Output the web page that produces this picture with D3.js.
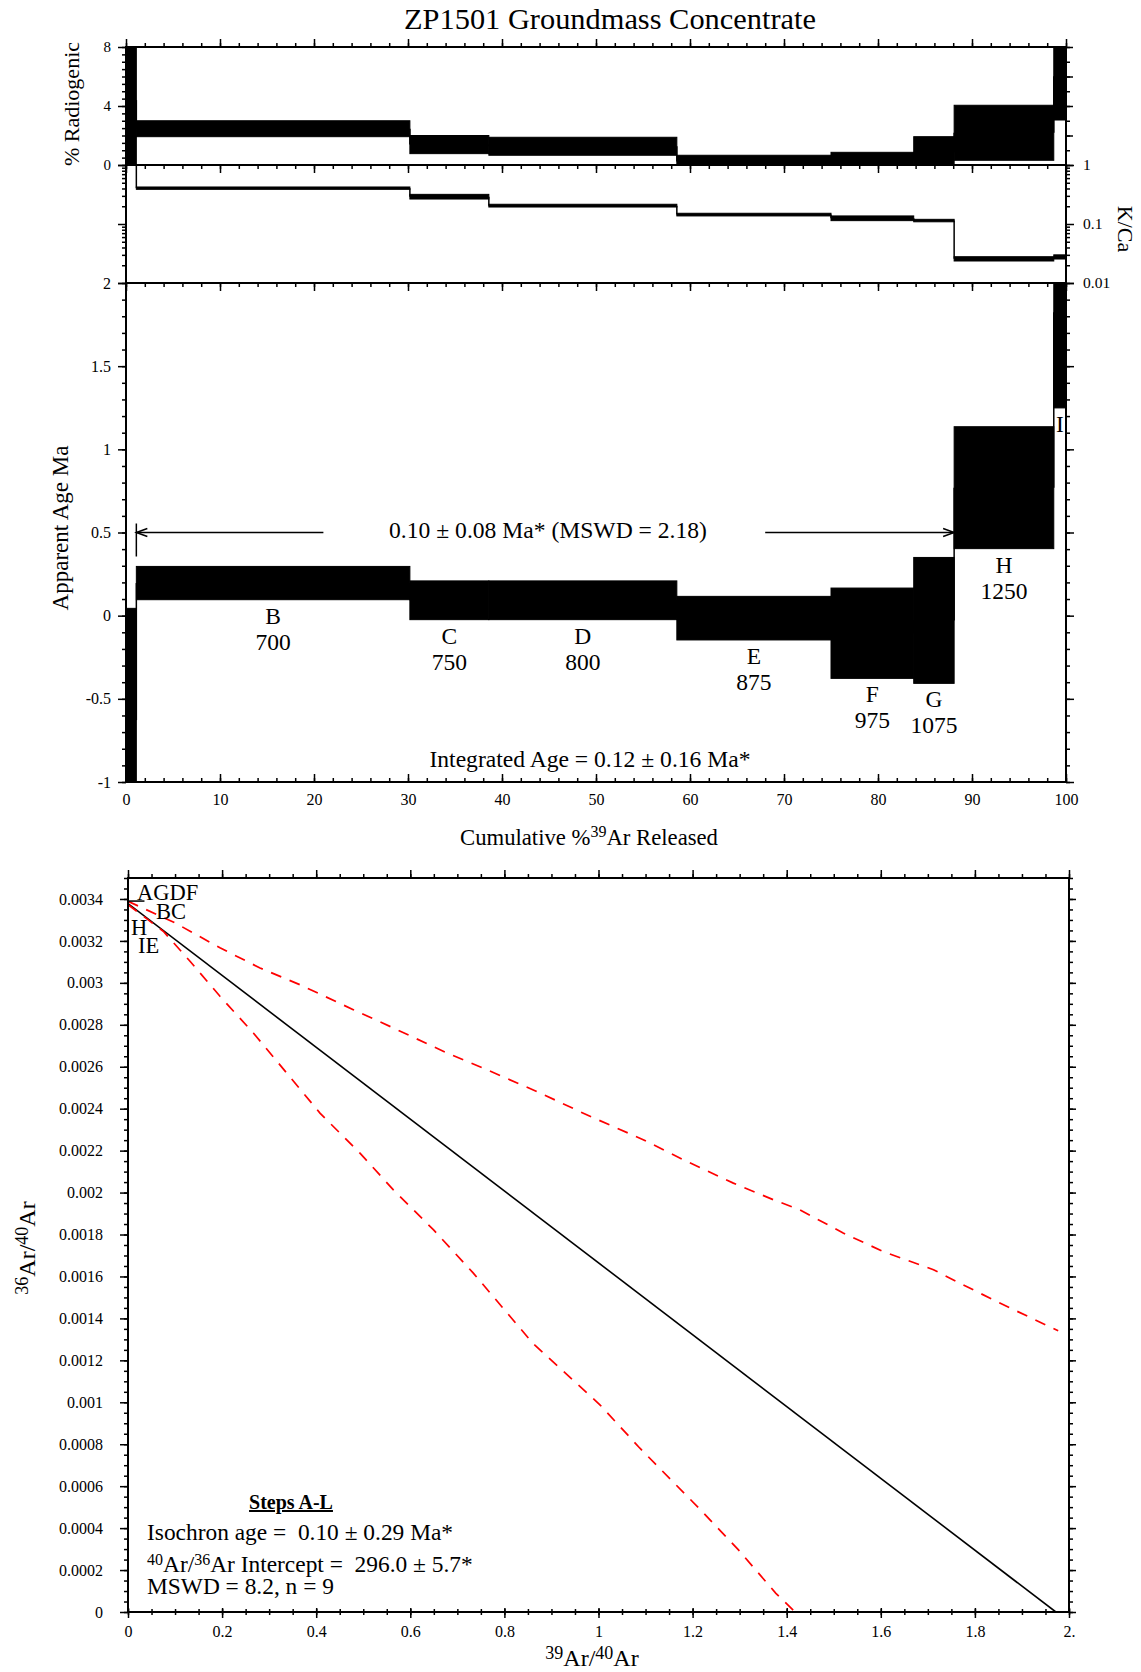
<!DOCTYPE html>
<html>
<head>
<meta charset="utf-8">
<script src="https://cdn.jsdelivr.net/npm/d3@7"></script>
<style>
  body { margin: 0; background: #fff; }
  text { font-family: "Liberation Serif", "Times New Roman", serif; fill: #000; }
  .pre { white-space: pre; }
</style>
</head>
<body>
<div id="chart"></div>
<script>
/* age spectrum + isochron for ZP1501 groundmass */

// heating steps
const steps = ['A', 'B', 'C', 'D', 'E', 'F', 'G', 'H', 'I'];
const temps = ['', '700', '750', '800', '875', '975', '1075', '1250', ''];
const cumBounds = [0, 1.1, 30.2, 38.6, 58.6, 75.0, 83.8, 88.1, 98.7, 100];

// apparent age (Ma), 2 sigma box limits
const ageLo = [-1.3, 0.096, -0.024, -0.024, -0.146, -0.377, -0.407, 0.403, 1.249];
const ageHi = [0.044, 0.296, 0.209, 0.209, 0.116, 0.166, 0.35, 1.136, 2.4];

// % radiogenic
const radLo = [-0.2, 1.92, 0.77, 0.66, -0.2, -0.2, -0.2, 0.32, 3.05];
const radHi = [9, 3.0, 2.0, 1.88, 0.66, 0.86, 1.92, 4.05, 9];

// K/Ca
const kcaLo = [1.5, 0.387, 0.265, 0.194, 0.137, 0.114, 0.109, 0.0236, 0.0255];
const kcaHi = [2.0, 0.424, 0.318, 0.216, 0.152, 0.137, 0.12, 0.0279, 0.030];

// axis ticks
const specXTicks = [0, 10, 20, 30, 40, 50, 60, 70, 80, 90, 100];
const radTicks = [0, 4, 8];
const kcaTicks = [0.01, 0.1, 1];
const kcaLabels = ['0.01', '0.1', '1'];
const ageTicks = [-1, -0.5, 0, 0.5, 1, 1.5, 2];
const ageLabels = ['-1', '-0.5', '0', '0.5', '1', '1.5', '2'];

// isochron
const isoXTicks = [0, 0.2, 0.4, 0.6, 0.8, 1, 1.2, 1.4, 1.6, 1.8, 2];
const isoXLabels = ['0', '0.2', '0.4', '0.6', '0.8', '1', '1.2', '1.4', '1.6', '1.8', '2.'];
const isoYTicks = [0, 0.0002, 0.0004, 0.0006, 0.0008, 0.001, 0.0012, 0.0014, 0.0016, 0.0018,
  0.002, 0.0022, 0.0024, 0.0026, 0.0028, 0.003, 0.0032, 0.0034];
const isoYLabels = ['0', '0.0002', '0.0004', '0.0006', '0.0008', '0.001', '0.0012', '0.0014', '0.0016', '0.0018',
  '0.002', '0.0022', '0.0024', '0.0026', '0.0028', '0.003', '0.0032', '0.0034'];

const fitX = [0, 1.972];
const fitY = [0.003378, 0];
const upperX = [0, 0.1, 0.1955, 0.2806, 0.3656, 0.4789, 0.5639, 0.6774, 0.7624, 0.8757, 0.9749,
  1.095, 1.18, 1.2866, 1.3715, 1.428, 1.52, 1.605, 1.712, 1.768, 1.853, 1.977];
const upperY = [0.003389, 0.003286, 0.003167, 0.003071, 0.002991, 0.002872, 0.002785, 0.002666, 0.002586, 0.002475, 0.002371,
  0.002252, 0.002157, 0.002045, 0.001966, 0.001918, 0.001807, 0.001719, 0.001632, 0.001568, 0.001473, 0.001341];
const lowerX = [0, 0.075, 0.1318, 0.1955, 0.2664, 0.3373, 0.408, 0.493, 0.564, 0.649, 0.734,
  0.861, 1.003, 1.088, 1.217, 1.2975, 1.377, 1.418];
const lowerY = [0.003373, 0.003246, 0.003103, 0.002936, 0.002761, 0.00257, 0.002379, 0.002188, 0.002013, 0.001823, 0.001616,
  0.00128, 0.000988, 0.000781, 0.000487, 0.000296, 0.0000892, 0];

const ptLabels = ['AGDF', 'BC', 'H', 'IE'];
const ptX = [0.019, 0.0595, 0.0064, 0.0213];
const ptY = [0.003397, 0.003306, 0.00323, 0.003144];

const spec = steps.map((s, i) => ({
  step: s, temp: temps[i], x0: cumBounds[i], x1: cumBounds[i + 1],
  ageLo: ageLo[i], ageHi: ageHi[i], radLo: radLo[i], radHi: radHi[i],
  kcaLo: kcaLo[i], kcaHi: kcaHi[i]
}));

const svg = d3.select('#chart').append('svg')
  .attr('width', 1141)
  .attr('height', 1672);

// scales
const x = d3.scaleLinear().domain([0, 100]).range([126, 1066]);
const yRad = d3.scaleLinear().domain([0, 8]).range([165, 47]);
const yKca = d3.scaleLog().domain([0.01, 1]).range([283, 165]);
const yAge = d3.scaleLinear().domain([-1, 2]).range([782, 283]);
const ix = d3.scaleLinear().domain([0, 2]).range([128, 1069]);
const iy = d3.scaleLinear().domain([0, 0.0035]).range([1612, 878]);

const defs = svg.append('defs');
function clip(id, x0, y0, x1, y1) {
  defs.append('clipPath').attr('id', id).append('rect')
    .attr('x', x0).attr('y', y0).attr('width', x1 - x0).attr('height', y1 - y0);
}
clip('cRad', 126, 47, 1066, 165);
clip('cKca', 126, 165, 1066, 283);
clip('cAge', 126, 283, 1066, 782);
clip('cIso', 128, 878, 1069, 1612);

function ticks(orient, scale, vals, size, pos, opts = {}) {
  const axis = d3[orient](scale).tickValues(vals).tickSizeInner(size).tickSizeOuter(0)
    .tickPadding(opts.pad || 3)
    .tickFormat(opts.labels ? (d, i) => opts.labels[i] : '');
  const horiz = orient === 'axisTop' || orient === 'axisBottom';
  const g = svg.append('g')
    .attr('transform', horiz ? `translate(0,${pos})` : `translate(${pos},0)`)
    .call(axis);
  g.select('.domain').remove();
  g.selectAll('line').attr('stroke', '#000').attr('stroke-width', 1.5);
  g.selectAll('text').style('font-size', (opts.fs || 16) + 'px');
  return g;
}

// step boxes with vertical connectors
function boxes(clipId, yScale, lo, hi, mid) {
  const g = svg.append('g').attr('clip-path', `url(#${clipId})`);
  g.selectAll('rect').data(spec).enter().append('rect')
    .attr('x', d => x(d.x0))
    .attr('width', d => x(d.x1) - x(d.x0))
    .attr('y', d => yScale(d[hi]))
    .attr('height', d => yScale(d[lo]) - yScale(d[hi]))
    .attr('fill', '#000')
    .attr('stroke', '#000')
    .attr('stroke-width', 1);
  g.selectAll('line').data(spec.slice(1)).enter().append('line')
    .attr('x1', d => x(d.x0)).attr('x2', d => x(d.x0))
    .attr('y1', (d, i) => yScale(mid(spec[i][lo], spec[i][hi])))
    .attr('y2', d => yScale(mid(d[lo], d[hi])))
    .attr('stroke', '#000')
    .attr('stroke-width', 1.5);
  return g;
}
const arith = (a, b) => (a + b) / 2;
const geom = (a, b) => Math.sqrt(a * b);

boxes('cRad', yRad, 'radLo', 'radHi', arith);
boxes('cKca', yKca, 'kcaLo', 'kcaHi', geom);
const gAge = boxes('cAge', yAge, 'ageLo', 'ageHi', arith);

// step letters and temperatures
gAge.selectAll('.stepLab').data(spec).enter().append('text')
  .attr('x', d => x((d.x0 + d.x1) / 2))
  .attr('y', d => yAge(d.ageLo) + 24)
  .attr('text-anchor', 'middle')
  .style('font-size', '23.5px')
  .text(d => d.step);
gAge.selectAll('.tempLab').data(spec.filter(d => d.temp)).enter().append('text')
  .attr('x', d => x((d.x0 + d.x1) / 2))
  .attr('y', d => yAge(d.ageLo) + 50)
  .attr('text-anchor', 'middle')
  .style('font-size', '23.5px')
  .text(d => d.temp);

// plateau arrows
const py = yAge(0.5);
const pL = x(cumBounds[1]), pR = x(cumBounds[7]);
const ann = svg.append('g').attr('stroke', '#000').attr('stroke-width', 1.5).attr('fill', 'none');
ann.append('line').attr('x1', pL).attr('x2', x(21)).attr('y1', py).attr('y2', py);
ann.append('line').attr('x1', x(68)).attr('x2', pR).attr('y1', py).attr('y2', py);
ann.append('line').attr('x1', pL).attr('x2', pL).attr('y1', py - 9).attr('y2', py + 24);
ann.append('path').attr('d', `M${pL + 11},${py - 4}L${pL},${py}L${pL + 11},${py + 4}`);
ann.append('path').attr('d', `M${pR - 11},${py - 4}L${pR},${py}L${pR - 11},${py + 4}`);

svg.append('text').attr('x', 548).attr('y', 538).attr('text-anchor', 'middle')
  .style('font-size', '23.6px').text('0.10 ± 0.08 Ma* (MSWD = 2.18)');
svg.append('text').attr('x', 590).attr('y', 767).attr('text-anchor', 'middle')
  .style('font-size', '23.6px').text('Integrated Age = 0.12 ± 0.16 Ma*');

// spectrum ticks
const xMinor = d3.range(0, 100.01, 2);
ticks('axisTop', x, xMinor, 4, 47);
ticks('axisTop', x, specXTicks, 8, 47);
ticks('axisBottom', x, xMinor, 4, 165);
ticks('axisBottom', x, specXTicks, 8, 165);
ticks('axisBottom', x, xMinor, 4, 283);
ticks('axisBottom', x, specXTicks, 8, 283);
ticks('axisBottom', x, xMinor, -4, 782);
ticks('axisBottom', x, specXTicks, -8, 782, { labels: specXTicks.map(String), pad: 12 });

ticks('axisLeft', yRad, d3.range(0, 8.01, 0.5), 4, 126);
ticks('axisLeft', yRad, radTicks, 8, 126, { labels: radTicks.map(String), pad: 7, fs: 15 });
ticks('axisRight', yRad, d3.range(0, 8.01, 1), 4, 1066);
ticks('axisRight', yRad, d3.range(0, 8.01, 2), 7, 1066);

const kcaMinor = [0.01, 0.1].flatMap(dec => d3.range(2, 10).map(k => k * dec));
ticks('axisLeft', yKca, kcaMinor, 4, 126);
ticks('axisLeft', yKca, kcaTicks, 8, 126);
ticks('axisRight', yKca, kcaMinor, 4, 1066);
ticks('axisRight', yKca, kcaTicks, 8, 1066, { labels: kcaLabels, pad: 9, fs: 15.5 });

const ageMinor = d3.range(-10, 21).map(k => k / 10);
ticks('axisLeft', yAge, ageMinor, 4, 126);
ticks('axisLeft', yAge, ageTicks, 8, 126, { labels: ageLabels, pad: 7 });
ticks('axisRight', yAge, ageMinor, 4, 1066);
ticks('axisRight', yAge, ageTicks, 8, 1066);

// panel frames
[[47, 165], [165, 283], [283, 782]].forEach(([t, b]) => {
  svg.append('rect').attr('x', 126).attr('y', t).attr('width', 940).attr('height', b - t)
    .attr('fill', 'none').attr('stroke', '#000').attr('stroke-width', 2);
});

// titles and axis labels
svg.append('text').attr('x', 610).attr('y', 29).attr('text-anchor', 'middle')
  .style('font-size', '30.4px').text('ZP1501 Groundmass Concentrate');
svg.append('text').attr('transform', 'translate(79,104) rotate(-90)').attr('text-anchor', 'middle')
  .style('font-size', '22px').text('% Radiogenic');
svg.append('text').attr('transform', 'translate(68,528) rotate(-90)').attr('text-anchor', 'middle')
  .style('font-size', '23px').text('Apparent Age Ma');
svg.append('text').attr('transform', 'translate(1118,229) rotate(90)').attr('text-anchor', 'middle')
  .style('font-size', '22px').text('K/Ca');
const cum = svg.append('text').attr('x', 589).attr('y', 845).attr('text-anchor', 'middle')
  .style('font-size', '22.7px');
cum.append('tspan').text('Cumulative %');
cum.append('tspan').attr('dy', -8).style('font-size', '16px').text('39');
cum.append('tspan').attr('dy', 8).text('Ar Released');

// ---- isochron ----
const gIso = svg.append('g').attr('clip-path', 'url(#cIso)');
const line = d3.line().x(d => ix(d[0])).y(d => iy(d[1]));
gIso.append('path').datum(fitX.map((v, i) => [v, fitY[i]]))
  .attr('d', line).attr('fill', 'none').attr('stroke', '#000').attr('stroke-width', 1.6);
[[upperX, upperY], [lowerX, lowerY]].forEach(([xs, ys]) => {
  gIso.append('path').datum(xs.map((v, i) => [v, ys[i]]))
    .attr('d', line).attr('fill', 'none').attr('stroke', '#ff0000')
    .attr('stroke-width', 1.7).attr('stroke-dasharray', '11,9');
});
gIso.append('line').attr('x1', ix(0)).attr('x2', ix(0.035)).attr('y1', iy(0.00339)).attr('y2', iy(0.00339))
  .attr('stroke', '#000').attr('stroke-width', 1.5);
gIso.selectAll('.pt').data(ptLabels).enter().append('text')
  .attr('x', (d, i) => ix(ptX[i]))
  .attr('y', (d, i) => iy(ptY[i]))
  .style('font-size', '22.5px')
  .text(d => d);

const isoXMinor = d3.range(0, 41).map(k => k * 0.05);
const isoYMinor = d3.range(0, 71).map(k => k * 0.00005);
ticks('axisTop', ix, isoXMinor, 4, 878);
ticks('axisTop', ix, isoXTicks, 8, 878);
ticks('axisBottom', ix, isoXMinor, 3, 1612);
ticks('axisTop', ix, isoXMinor, 3, 1612);
ticks('axisTop', ix, isoXTicks, 4, 1612);
ticks('axisBottom', ix, isoXTicks, 6, 1612, { labels: isoXLabels, pad: 8 });
ticks('axisLeft', iy, isoYMinor, 4, 128);
ticks('axisLeft', iy, isoYTicks, 8, 128, { labels: isoYLabels, pad: 17, fs: 16 });
ticks('axisRight', iy, isoYMinor, 4, 1069);
ticks('axisRight', iy, isoYTicks, 7, 1069);

svg.append('rect').attr('x', 128).attr('y', 878).attr('width', 941).attr('height', 734)
  .attr('fill', 'none').attr('stroke', '#000').attr('stroke-width', 2);

// isochron stats
svg.append('text').attr('x', 291).attr('y', 1509).attr('text-anchor', 'middle')
  .style('font-size', '20px').style('font-weight', 'bold').style('text-decoration', 'underline')
  .text('Steps A-L');
svg.append('text').attr('class', 'pre').attr('x', 147).attr('y', 1540)
  .style('font-size', '23.4px').text('Isochron age =  0.10 ± 0.29 Ma*');
const ic = svg.append('text').attr('class', 'pre').attr('x', 147).attr('y', 1572).style('font-size', '23.4px');
ic.append('tspan').attr('dy', -7).style('font-size', '16px').text('40');
ic.append('tspan').attr('dy', 7).text('Ar/');
ic.append('tspan').attr('dy', -7).style('font-size', '16px').text('36');
ic.append('tspan').attr('dy', 7).text('Ar Intercept =  296.0 ± 5.7*');
svg.append('text').attr('x', 147).attr('y', 1594)
  .style('font-size', '23.4px').text('MSWD = 8.2, n = 9');

// isochron axis labels
function ratioLabel(sel, a, b) {
  sel.append('tspan').attr('dy', -7).style('font-size', '18px').text(a);
  sel.append('tspan').attr('dy', 7).text('Ar/');
  sel.append('tspan').attr('dy', -7).style('font-size', '18px').text(b);
  sel.append('tspan').attr('dy', 7).text('Ar');
}
ratioLabel(svg.append('text').attr('x', 592).attr('y', 1666).attr('text-anchor', 'middle')
  .style('font-size', '24px'), '39', '40');
ratioLabel(svg.append('text').attr('transform', 'translate(35,1248) rotate(-90)').attr('text-anchor', 'middle')
  .style('font-size', '24px'), '36', '40');
</script>
</body>
</html>
